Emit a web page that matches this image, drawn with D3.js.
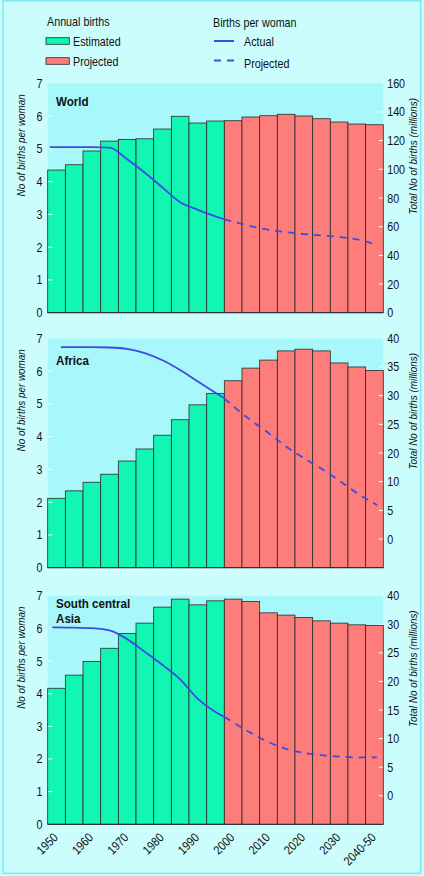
<!DOCTYPE html>
<html><head><meta charset="utf-8">
<script src="https://cdn.jsdelivr.net/npm/d3@7"></script>
<style>
body{margin:0;background:#ccfdfd}
svg{display:block}
text{font-family:'Liberation Sans',Arial,sans-serif;fill:#111}
</style>
</head><body><svg id="c" width="424" height="876"></svg>
<script>
// ---------------- DATA ----------------
const periods = ["1950-55","1955-60","1960-65","1965-70","1970-75","1975-80","1980-85","1985-90","1990-95","1995-2000",
                 "2000-05","2005-10","2010-15","2015-20","2020-25","2025-30","2030-35","2035-40","2040-50"];
const estimatedCount = 10; // first 10 periods estimated, rest projected
const xTickYears = [1950,1960,1970,1980,1990,2000,2010,2020,2030,2040];
const xTickLabels = ["1950","1960","1970","1980","1990","2000","2010","2020","2030","2040-50"];
const leftTicks = [0,1,2,3,4,5,6,7];

// Annual births (millions)
const worldBirths  = [99.5,103.2,112.8,119.7,120.9,121.3,128.1,137.0,132.3,133.7,133.9,136.5,137.4,138.4,137.2,135.3,133.0,131.6,131.1];
const africaBirths = [12.1,13.4,14.9,16.3,18.6,20.7,23.1,25.8,28.4,30.4,32.6,34.8,36.2,37.8,38.1,37.8,35.7,35.0,34.4];
const scaBirths    = [23.8,26.1,28.5,30.8,33.4,35.2,38.0,39.4,38.4,39.1,39.4,39.0,37.0,36.6,36.2,35.6,35.2,34.9,34.8];

// Births per woman
const worldActYears  = [1950.6,1952.5,1957.5,1962.5,1967.5,1972.5,1977.5,1982.5,1987.5,1992.5,1997.5,2000];
const worldActual    = [5.05,5.05,5.05,5.05,5.04,4.68,4.27,3.82,3.37,3.14,2.94,2.85];
const worldProjYears = [2000,2002.5,2007.5,2012.5,2017.5,2022.5,2027.5,2032.5,2037.5,2044.7];
const worldProjected = [2.85,2.78,2.64,2.53,2.46,2.40,2.36,2.31,2.24,2.10];

const africaActYears  = [1953.75,1957.5,1962.5,1967.5,1972.5,1977.5,1982.5,1987.5,1992.5,1997.5,2000];
const africaActual    = [6.73,6.73,6.73,6.72,6.68,6.55,6.33,6.03,5.68,5.34,5.17];
const africaProjYears = [2000,2002.5,2007.5,2012.5,2017.5,2022.5,2027.5,2032.5,2037.5,2046.5];
const africaProjected = [5.17,4.93,4.50,4.11,3.70,3.34,3.02,2.66,2.28,1.91];

const scaActYears  = [1951.3,1952.5,1957.5,1962.5,1967.5,1972.5,1977.5,1982.5,1987.5,1992.5,1997.5,2000];
const scaActual    = [6.03,6.03,6.02,6.01,5.94,5.67,5.28,4.88,4.44,3.84,3.44,3.29];
const scaProjYears = [2000,2002.5,2007.5,2012.5,2017.5,2022.5,2027.5,2032.5,2037.5,2046.3];
const scaProjected = [3.29,3.12,2.80,2.52,2.31,2.19,2.12,2.075,2.05,2.05];

// Right axis ticks and the labels printed at them
const worldRightTicks  = [0,20,40,60,80,100,120,140,160];
const worldRightLabels = ["0","20","40","60","80","100","120","140","160"];
const africaRightTicks  = [5,10,15,20,25,30,35,40];
const africaRightLabels = ["0","5","10","20","25","30","35","40"];
const scaRightTicks  = [5,10,15,20,25,30,35,40];
const scaRightLabels = ["0","5","10","15","20","25","30","40"];

const panels = [
  {title:["World"], births:worldBirths, rightMax:160, rTicks:worldRightTicks, rLabels:worldRightLabels,
   actY:worldActYears, act:worldActual, projY:worldProjYears, proj:worldProjected, leftTitle:"No of births per woman"},
  {title:["Africa"], births:africaBirths, rightMax:40, rTicks:africaRightTicks, rLabels:africaRightLabels,
   actY:africaActYears, act:africaActual, projY:africaProjYears, proj:africaProjected, leftTitle:"No of births  per woman"},
  {title:["South central","Asia"], births:scaBirths, rightMax:40, rTicks:scaRightTicks, rLabels:scaRightLabels,
   actY:scaActYears, act:scaActual, projY:scaProjYears, proj:scaProjected, leftTitle:"No of births  per woman"}
];

// ---------------- LAYOUT / STYLE ----------------
const C = {bg:"#ccfdfd", border:"#7eeaf0", plot:"#a8f7fa", est:"#12f6b4", proj:"#fd7d7a",
           barStroke:"#2a2a2a", line:"#3b4ce0"};
const NARROW = 0.86;
const plotL = 47.7, plotR = 383.3;
const tops = [83.3, 338.3, 595.7], bottoms = [312.7, 567.7, 824.3];
const titleOffsets = [23, 27, 12.3];

const svg = d3.select("#c");
svg.append("rect").attr("x",0).attr("y",0).attr("width",424).attr("height",876).attr("fill",C.bg);
svg.append("rect").attr("x",3).attr("y",0.8).attr("width",417.7).attr("height",872.5)
   .attr("fill","none").attr("stroke",C.border).attr("stroke-width",1.6);

const xBand = d3.scaleBand().domain(periods).range([plotL, plotR]).paddingInner(0).paddingOuter(0);
const bw = xBand.bandwidth();
const xYear = d3.scaleLinear().domain([1950,2040,2050]).range([plotL, plotL+18*bw, plotL+19*bw]);

function txt(g, x, y, s, size, rot){
  return g.append("text")
    .attr("transform",`translate(${x},${y})${rot?` rotate(${rot})`:""} scale(${NARROW},1)`)
    .style("font-size",size+"px").text(s);
}

// ---------------- LEGEND ----------------
const lg = svg.append("g");
txt(lg,47,26,"Annual births",12.5);
lg.append("rect").attr("x",46).attr("y",37.7).attr("width",23.3).attr("height",6.6).attr("fill",C.est).attr("stroke",C.barStroke).attr("stroke-width",0.8);
txt(lg,73,46,"Estimated",12.5);
lg.append("rect").attr("x",46).attr("y",57.7).attr("width",23.3).attr("height",6.6).attr("fill",C.proj).attr("stroke",C.barStroke).attr("stroke-width",0.8);
txt(lg,73,66,"Projected",12.5);
txt(lg,213,27,"Births per woman",12.5);
lg.append("line").attr("x1",214).attr("x2",234).attr("y1",41).attr("y2",41).attr("stroke",C.line).attr("stroke-width",2);
txt(lg,244,45.5,"Actual",12.5);
lg.append("line").attr("x1",214).attr("x2",234).attr("y1",60.5).attr("y2",60.5).attr("stroke",C.line).attr("stroke-width",2).attr("stroke-dasharray","7,6");
txt(lg,244,67.5,"Projected",12.5);

// ---------------- PANELS ----------------
panels.forEach((p, i) => {
  const top = tops[i], bot = bottoms[i];
  const g = svg.append("g");
  const yL = d3.scaleLinear().domain([0,7]).range([bot, top]);
  const yR = d3.scaleLinear().domain([0,p.rightMax]).range([bot, top]);

  g.append("rect").attr("x",plotL).attr("y",top).attr("width",plotR-plotL).attr("height",bot-top).attr("fill",C.plot);

  // bars
  g.selectAll("rect.bar").data(p.births).join("rect").attr("class","bar")
    .attr("x",(d,j)=>xBand(periods[j]))
    .attr("y",d=>yR(d))
    .attr("width",bw)
    .attr("height",d=>yR(0)-yR(d))
    .attr("fill",(d,j)=> j<estimatedCount ? C.est : C.proj)
    .attr("stroke",C.barStroke).attr("stroke-width",0.8);

  // left axis
  const axL = d3.axisLeft(yL).tickValues(leftTicks).tickSize(0).tickPadding(6).tickFormat(d3.format("d"));
  const gL = g.append("g").attr("transform",`translate(${plotL},0)`).call(axL);
  gL.select(".domain").remove();
  gL.selectAll("text").style("font-size","12.5px").style("font-family",null).attr("fill","#111")
    .attr("transform",`scale(${NARROW},1)`);
  g.selectAll("line.lt").data(leftTicks.filter(d=>d>0&&d<7)).join("line").attr("class","lt")
    .attr("x1",plotL+0.5).attr("x2",plotL+4.5).attr("y1",d=>yL(d)).attr("y2",d=>yL(d))
    .attr("stroke","#fff").attr("stroke-width",1);

  // right axis
  const axR = d3.axisRight(yR).tickValues(p.rTicks).tickSize(0).tickPadding(4.5)
    .tickFormat((d,k)=>p.rLabels[k]);
  const gR = g.append("g").attr("transform",`translate(${plotR},0)`).call(axR);
  gR.select(".domain").remove();
  gR.selectAll("text").style("font-size","12.5px").style("font-family",null).attr("fill","#111")
    .attr("transform",`scale(${NARROW},1)`);
  g.selectAll("line.rt").data(p.rTicks.filter(d=>d>0&&d<p.rightMax)).join("line").attr("class","rt")
    .attr("x1",plotR-4.5).attr("x2",plotR-0.5).attr("y1",d=>yR(d)).attr("y2",d=>yR(d))
    .attr("stroke","#fff").attr("stroke-width",1);

  // lines
  const line = d3.line().x(d=>xYear(d[0])).y(d=>yL(d[1])).curve(d3.curveMonotoneX);
  g.append("path").datum(d3.zip(p.actY,p.act)).attr("d",line)
    .attr("fill","none").attr("stroke",C.line).attr("stroke-width",1.8);
  g.append("path").datum(d3.zip(p.projY,p.proj)).attr("d",line)
    .attr("fill","none").attr("stroke",C.line).attr("stroke-width",1.8).attr("stroke-dasharray","7,6");

  // baseline
  g.append("line").attr("x1",plotL).attr("x2",plotR).attr("y1",bot).attr("y2",bot).attr("stroke",C.barStroke).attr("stroke-width",1);

  // title
  p.title.forEach((s,k)=> txt(g,56,top+titleOffsets[i]+k*14.5,s,13.5).style("font-weight","bold"));

  // axis titles
  txt(g,24.5,top+62,p.leftTitle,11.5,-90).attr("text-anchor","middle").style("font-style","italic");
  txt(g,416.5,top+73,"Total No of births (millions)",11.5,-90).attr("text-anchor","middle").style("font-style","italic");
});

// x-axis labels (bottom panel)
const bl = bottoms[2];
svg.append("g").selectAll("text").data(xTickYears).join("text")
  .attr("transform",(d)=>`translate(${xYear(d)+11},${bl+14}) rotate(-45) scale(${NARROW},1)`)
  .attr("text-anchor","end").style("font-size","12.5px")
  .text((d,k)=>xTickLabels[k]);
</script>
</body></html>
